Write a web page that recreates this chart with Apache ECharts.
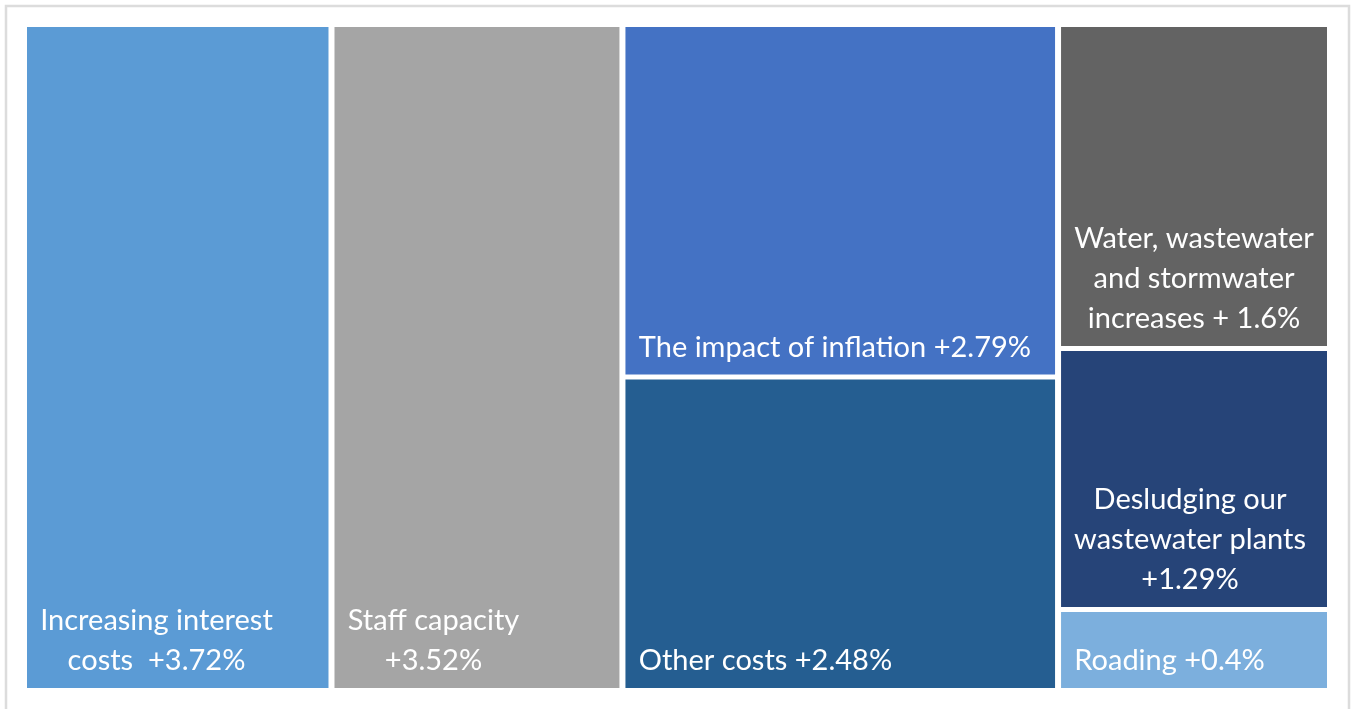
<!DOCTYPE html>
<html>
<head>
<meta charset="utf-8">
<script src="https://cdn.jsdelivr.net/npm/echarts@6/dist/echarts.min.js"></script>
<style>
  html, body { margin: 0; padding: 0; background: #fff; }
  #chart { width: 1351px; height: 709px; }
</style>
</head>
<body>
<div id="chart"></div>
<script>
// ---- Data ----
const categories = [
  'Increasing interest\ncosts  +3.72%',
  'Staff capacity\n+3.52%',
  'The impact of inflation +2.79%',
  'Other costs +2.48%',
  'Water, wastewater\nand stormwater\nincreases + 1.6%',
  'Desludging our\nwastewater plants\n+1.29%',
  'Roading +0.4%'
];
const values = [3.72, 3.52, 2.79, 2.48, 1.6, 1.29, 0.4];
const columnOf = [0, 1, 2, 2, 3, 3, 3];
const colors = ['#5B9BD5', '#A5A5A5', '#4472C4', '#255E91', '#636363', '#264478', '#7CAFDD'];

// ---- Text styling ----
const FONT_FAMILY = 'Lato';
const FONT_SIZE = 29;
const LINE_H = 40;
const PAD_LEFT = 12;
const PAD_BOTTOM = 7;

const measureCtx = document.createElement('canvas').getContext('2d');
measureCtx.font = FONT_SIZE + 'px ' + FONT_FAMILY;
function blockWidth(text) {
  return Math.max.apply(null, text.split('\n').map(l => measureCtx.measureText(l).width));
}

// ---- Build nested treemap data ----
function buildData(layouts) {
  const columns = [];
  categories.forEach((name, i) => {
    const c = columnOf[i];
    if (!columns[c]) columns[c] = [];
    const item = {
      name: name,
      value: values[i],
      itemStyle: { color: colors[i] }
    };
    const lay = layouts && layouts[name];
    if (lay) {
      const nLines = name.split('\n').length;
      const bw = Math.ceil(blockWidth(name)) + 2;
      const top = Math.max(0, lay.height - nLines * LINE_H - PAD_BOTTOM);
      const right = Math.max(0, lay.width - PAD_LEFT - bw);
      item.label = { padding: [top, right, 0, PAD_LEFT] };
    }
    columns[c].push(item);
  });
  return columns.map((items, c) => {
    if (items.length === 1) return items[0];
    return {
      name: 'col' + c,
      value: items.reduce((s, d) => s + d.value, 0),
      itemStyle: { color: '#ffffff', borderColor: '#ffffff' },
      children: items
    };
  });
}

const chart = echarts.init(document.getElementById('chart'), null, { renderer: 'canvas' });
const baseOption = {
  animation: false,
  backgroundColor: '#ffffff',
  graphic: [{
    type: 'rect',
    shape: { x: 6, y: 6, width: 1343, height: 730 },
    style: { fill: 'none', stroke: '#dcdcdc', lineWidth: 2.5 },
    silent: true
  }],
  series: [{
    type: 'treemap',
    left: 27, top: 27, width: 1300, height: 661,
    sort: false,
    squareRatio: 0.0001,
    roam: false,
    nodeClick: false,
    breadcrumb: { show: false },
    visibleMin: 0,
    itemStyle: { borderWidth: 0, gapWidth: 5, borderColor: '#ffffff' },
    upperLabel: { show: false },
    levels: [
      { itemStyle: { borderWidth: 0, gapWidth: 6, borderColor: '#ffffff', color: '#ffffff' } },
      { itemStyle: { borderWidth: 0, gapWidth: 5, borderColor: '#ffffff' } },
      { itemStyle: { borderWidth: 0, gapWidth: 5, borderColor: '#ffffff' } }
    ],
    label: {
      show: true,
      position: 'insideTopLeft',
      distance: 0,
      padding: [0, 0, 0, PAD_LEFT],
      overflow: 'none',
      color: '#ffffff',
      fontFamily: FONT_FAMILY,
      fontSize: FONT_SIZE,
      lineHeight: LINE_H,
      formatter: function (p) {
        return String(p.name).split('\n').map(l => '{c|' + l + '}').join('\n');
      },
      rich: {
        c: { align: 'center', color: '#ffffff', fontFamily: FONT_FAMILY, fontSize: FONT_SIZE, lineHeight: LINE_H }
      }
    },
    emphasis: { disabled: true },
    data: buildData(null)
  }]
};
chart.setOption(baseOption);

// Read the library's own tile layout, then place labels at bottom-left of each tile.
const layouts = {};
const seriesModel = chart.getModel().getSeriesByIndex(0);
seriesModel.getData().tree.root.eachNode(function (node) {
  if (node.children && node.children.length) return;
  const l = node.getLayout();
  if (l) layouts[node.name] = { width: l.width, height: l.height };
});
chart.setOption({ series: [{ data: buildData(layouts) }] });
</script>
</body>
</html>
